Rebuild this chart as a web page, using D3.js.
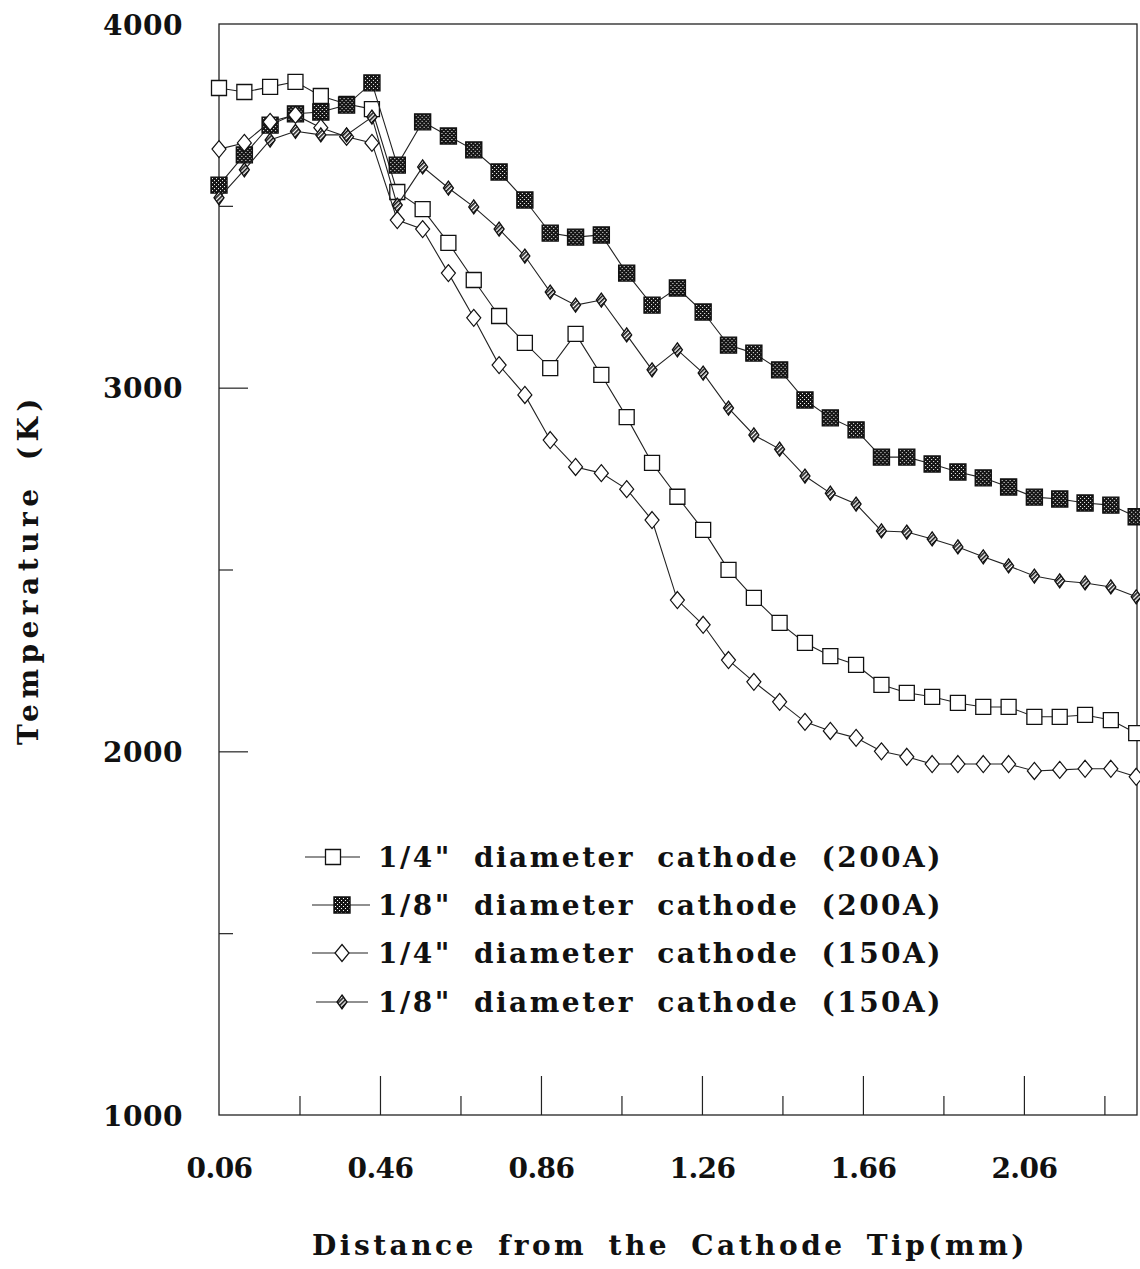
<!DOCTYPE html>
<html>
<head>
<meta charset="utf-8">
<script src="https://cdn.jsdelivr.net/npm/d3@7/dist/d3.min.js"></script>
<style>
  body { margin: 0; background: #fff; }
  text { font-family: "DejaVu Serif", "Liberation Serif", serif; font-weight: bold; fill: #111; }
</style>
</head>
<body>
<div class="chart"></div>
<script>
// distance from the cathode tip (mm)
var distance = [0.060, 0.123, 0.187, 0.250, 0.313, 0.377, 0.440, 0.503, 0.566, 0.630,
    0.693, 0.756, 0.820, 0.883, 0.946, 1.010, 1.073, 1.136, 1.199, 1.263,
    1.326, 1.389, 1.453, 1.516, 1.579, 1.643, 1.706, 1.769, 1.832, 1.896,
    1.959, 2.022, 2.086, 2.149, 2.212, 2.276, 2.339];

// temperatures (K)
var quarter200 = [3824, 3813, 3827, 3841, 3802, 3780, 3766, 3538, 3491, 3398,
    3296, 3197, 3123, 3054, 3148, 3035, 2919, 2793, 2700, 2609,
    2499, 2422, 2353, 2298, 2262, 2238, 2183, 2161, 2150, 2133,
    2122, 2122, 2095, 2095, 2100, 2086, 2050];
var eighth200 = [3557, 3640, 3722, 3753, 3758, 3777, 3838, 3612, 3731, 3692,
    3654, 3593, 3516, 3425, 3414, 3420, 3315, 3227, 3274, 3208,
    3117, 3095, 3049, 2966, 2917, 2884, 2809, 2809, 2790, 2768,
    2752, 2727, 2699, 2694, 2683, 2677, 2645];
var quarter150 = [3656, 3673, 3731, 3750, 3715, 3690, 3673, 3461, 3436, 3315,
    3192, 3062, 2980, 2856, 2782, 2765, 2721, 2636, 2416, 2348,
    2251, 2191, 2136, 2081, 2056, 2037, 2000, 1985, 1965, 1965,
    1965, 1965, 1946, 1949, 1952, 1952, 1930];
var eighth150 = [3522, 3599, 3681, 3705, 3695, 3695, 3744, 3502, 3607, 3549,
    3497, 3436, 3362, 3263, 3227, 3241, 3145, 3049, 3104, 3040,
    2944, 2870, 2831, 2757, 2710, 2680, 2606, 2603, 2584, 2562,
    2535, 2510, 2482, 2469, 2463, 2452, 2425];

var seriesNames = ['1/4" diameter cathode (200A)', '1/8" diameter cathode (200A)',
    '1/4" diameter cathode (150A)', '1/8" diameter cathode (150A)'];
var xTickLabels = [0.06, 0.46, 0.86, 1.26, 1.66, 2.06];
var xMajorTicks = [0.46, 0.86, 1.26, 1.66, 2.06];
var xMinorTicks = [0.26, 0.66, 1.06, 1.46, 1.86, 2.26];
var yTickLabels = [1000, 2000, 3000, 4000];
var yMajorTicks = [2000, 3000];
var yMinorTicks = [1500, 2500, 3500];

var plotLeft = 219, plotRight = 1137, plotTop = 24, plotBottom = 1115;

var svg = d3.select(".chart").append("svg")
    .attr("width", 1140)
    .attr("height", 1269);

// stretch letter spacing so a text fills a given width
var fitText = function (sel, target, wordGap) {
    sel.each(function () {
        var t = d3.select(this);
        t.style("word-spacing", wordGap + "px").style("letter-spacing", "0px");
        var w = this.getComputedTextLength();
        var n = t.text().length;
        t.style("letter-spacing", ((target - w) / n) + "px");
    });
};

var defs = svg.append("defs");
var dots = defs.append("pattern").attr("id", "dots")
    .attr("width", 4).attr("height", 4).attr("patternUnits", "userSpaceOnUse");
dots.append("rect").attr("width", 4).attr("height", 4).attr("fill", "#151515");
dots.append("rect").attr("x", 1).attr("y", 1).attr("width", 1).attr("height", 1).attr("fill", "#fff");
dots.append("rect").attr("x", 3).attr("y", 3).attr("width", 1).attr("height", 1).attr("fill", "#fff");
var hatch = defs.append("pattern").attr("id", "hatch")
    .attr("width", 3).attr("height", 3).attr("patternUnits", "userSpaceOnUse")
    .attr("patternTransform", "rotate(45)");
hatch.append("rect").attr("width", 3).attr("height", 3).attr("fill", "#fff");
hatch.append("rect").attr("width", 1.6).attr("height", 3).attr("fill", "#111");

var x = d3.scaleLinear().domain([0.06, 2.341]).range([plotLeft, plotRight]);
var y = d3.scaleLinear().domain([1000, 4000]).range([plotBottom, plotTop]);

// frame
svg.append("rect")
    .attr("x", plotLeft).attr("y", plotTop)
    .attr("width", plotRight - plotLeft).attr("height", plotBottom - plotTop)
    .attr("fill", "none").attr("stroke", "#222").attr("stroke-width", 1.3);

// x axis: labels, then tick marks pointing inward
var xLab = svg.append("g").attr("transform", "translate(0," + plotBottom + ")")
    .call(d3.axisBottom(x).tickValues(xTickLabels).tickSize(0).tickFormat(d3.format(".2f")));
xLab.select(".domain").remove();
xLab.selectAll("text").attr("y", 63).attr("dy", 0)
    .attr("font-size", 28).attr("font-family", null).attr("fill", "#111");
fitText(xLab.selectAll("text"), 66, 0);

var xMaj = svg.append("g").attr("transform", "translate(0," + plotBottom + ")")
    .call(d3.axisBottom(x).tickValues(xMajorTicks).tickSize(-39).tickFormat(""));
var xMin = svg.append("g").attr("transform", "translate(0," + plotBottom + ")")
    .call(d3.axisBottom(x).tickValues(xMinorTicks).tickSize(-19).tickFormat(""));

// y axis
var yLab = svg.append("g").attr("transform", "translate(" + plotLeft + ",0)")
    .call(d3.axisLeft(y).tickValues(yTickLabels).tickSize(0).tickPadding(36).tickFormat(d3.format("d")));
yLab.select(".domain").remove();
yLab.selectAll("text").attr("font-size", 28).attr("dy", "0.36em")
    .attr("font-family", null).attr("fill", "#111");
fitText(yLab.selectAll("text"), 80, 0);

var yMaj = svg.append("g").attr("transform", "translate(" + plotLeft + ",0)")
    .call(d3.axisLeft(y).tickValues(yMajorTicks).tickSize(-29).tickFormat(""));
var yMin = svg.append("g").attr("transform", "translate(" + plotLeft + ",0)")
    .call(d3.axisLeft(y).tickValues(yMinorTicks).tickSize(-14).tickFormat(""));

[xMaj, xMin, yMaj, yMin].forEach(function (g) {
    g.select(".domain").remove();
    g.selectAll("line").attr("stroke", "#222").attr("stroke-width", 1.2);
});

// axis titles
var xTitle = svg.append("text")
    .attr("x", 312).attr("y", 1255)
    .attr("font-size", 28)
    .text("Distance from the Cathode Tip(mm)");
fitText(xTitle, 716, 8);

var yTitle = svg.append("text")
    .attr("transform", "translate(38,745) rotate(-90)")
    .attr("font-size", 28)
    .text("Temperature (K)");
fitText(yTitle, 352, 8);

// marker shapes
var square = function (s) {
    var h = s / 2;
    return "M" + (-h) + "," + (-h) + "H" + h + "V" + h + "H" + (-h) + "Z";
};
var diamond = function (w, h) {
    return "M0," + (-h / 2) + "L" + (w / 2) + ",0L0," + (h / 2) + "L" + (-w / 2) + ",0Z";
};

var series = [
    { name: seriesNames[0], values: quarter200, shape: square(15), fill: "#fff", sw: 1.3 },
    { name: seriesNames[1], values: eighth200, shape: square(16), fill: "url(#dots)", sw: 1.4 },
    { name: seriesNames[2], values: quarter150, shape: diamond(14, 17), fill: "#fff", sw: 1.2 },
    { name: seriesNames[3], values: eighth150, shape: diamond(10, 14), fill: "url(#hatch)", sw: 1.3 }
];

var line = d3.line()
    .x(function (d) { return x(d[0]); })
    .y(function (d) { return y(d[1]); });

series.forEach(function (s) {
    var pts = distance.map(function (dd, i) { return [dd, s.values[i]]; });
    svg.append("path")
        .datum(pts)
        .attr("d", line)
        .attr("fill", "none")
        .attr("stroke", "#222")
        .attr("stroke-width", 1.1);
    svg.append("g").selectAll("path")
        .data(pts)
        .enter()
        .append("path")
        .attr("d", s.shape)
        .attr("transform", function (d) { return "translate(" + x(d[0]) + "," + y(d[1]) + ")"; })
        .attr("fill", s.fill)
        .attr("stroke", "#111")
        .attr("stroke-width", s.sw);
});

// legend
var legendRows = [857, 905, 953, 1002];
var legendLine = [[305, 360, 333], [312, 370, 342], [312, 368, 342], [316, 368, 342]];
var legend = svg.append("g").selectAll("g")
    .data(series)
    .enter()
    .append("g")
    .attr("transform", function (d, i) { return "translate(0," + legendRows[i] + ")"; });

legend.append("line")
    .attr("x1", function (d, i) { return legendLine[i][0]; })
    .attr("x2", function (d, i) { return legendLine[i][1]; })
    .attr("stroke", "#222").attr("stroke-width", 1.1);
legend.append("path")
    .attr("d", function (d) { return d.shape; })
    .attr("transform", function (d, i) { return "translate(" + legendLine[i][2] + ",0)"; })
    .attr("fill", function (d) { return d.fill; })
    .attr("stroke", "#111")
    .attr("stroke-width", function (d) { return d.sw; });
var legendText = legend.append("text")
    .attr("x", 378).attr("y", 10)
    .attr("font-size", 28)
    .text(function (d) { return d.name; });
fitText(legendText, 565, 10);
</script>
</body>
</html>
